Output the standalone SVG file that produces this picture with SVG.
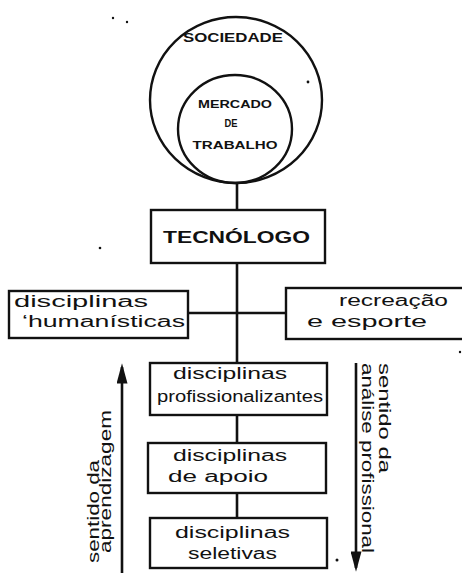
<svg xmlns="http://www.w3.org/2000/svg" width="462" height="573" viewBox="0 0 462 573">
<style>
.shape{fill:none;stroke:#111;stroke-width:2.4}
.link{fill:none;stroke:#111;stroke-width:2.6}
.cap{font-family:"Liberation Sans","DejaVu Sans",sans-serif;font-weight:bold;fill:#111}
.hand{font-family:"Liberation Sans","DejaVu Sans",sans-serif;font-size:16px;fill:#111}
.speck{fill:#111}
</style>
<defs>
<marker id="head" viewBox="0 0 22 12" refX="18" refY="6" markerWidth="22" markerHeight="11" markerUnits="userSpaceOnUse" orient="auto">
<path d="M0,0 L22,6 L0,12 z" fill="#111"/>
</marker>
</defs>
<rect width="462" height="573" fill="#fff"/>

<g id="connectors">
<line class="link" x1="237" y1="183" x2="237" y2="210"/>
<line class="link" x1="237" y1="263" x2="237" y2="363"/>
<line class="link" x1="188" y1="313" x2="286" y2="313"/>
<line class="link" x1="237" y1="415" x2="237" y2="443"/>
<line class="link" x1="237" y1="493" x2="237" y2="518"/>
</g>

<g id="sociedade">
<ellipse class="shape" cx="236" cy="100" rx="86" ry="83"/>
<text class="cap" x="233" y="42" font-size="12.5" text-anchor="middle" textLength="100" lengthAdjust="spacingAndGlyphs">SOCIEDADE</text>
</g>

<g id="mercado">
<ellipse class="shape" cx="235" cy="129" rx="57" ry="54"/>
<text class="cap" x="235" y="108" font-size="10.5" text-anchor="middle" textLength="74" lengthAdjust="spacingAndGlyphs">MERCADO</text>
<text class="cap" x="231" y="127" font-size="10.5" text-anchor="middle" textLength="13" lengthAdjust="spacingAndGlyphs">DE</text>
<text class="cap" x="235" y="149" font-size="10.5" text-anchor="middle" textLength="85" lengthAdjust="spacingAndGlyphs">TRABALHO</text>
</g>

<g id="tecnologo">
<rect class="shape" x="151" y="210" width="174" height="53"/>
<text class="cap" x="163" y="243" font-size="16" textLength="147" lengthAdjust="spacingAndGlyphs">TECNÓLOGO</text>
</g>

<g id="humanisticas">
<rect class="shape" x="9" y="291" width="179" height="47"/>
<text class="hand" x="14" y="307" textLength="134" lengthAdjust="spacingAndGlyphs">disciplinas</text>
<text class="hand" x="22" y="327" textLength="163" lengthAdjust="spacingAndGlyphs">‘humanísticas</text>
</g>

<g id="recreacao">
<rect class="shape" x="286" y="288" width="190" height="51"/>
<text class="hand" x="339" y="306" textLength="109" lengthAdjust="spacingAndGlyphs">recreação</text>
<text class="hand" x="307" y="327" textLength="120" lengthAdjust="spacingAndGlyphs">e esporte</text>
</g>

<g id="profissionalizantes">
<rect class="shape" x="150" y="363" width="177" height="52"/>
<text class="hand" x="173" y="379" textLength="114" lengthAdjust="spacingAndGlyphs">disciplinas</text>
<text class="hand" x="157" y="402" textLength="166" lengthAdjust="spacingAndGlyphs">profissionalizantes</text>
</g>

<g id="apoio">
<rect class="shape" x="148" y="443" width="178" height="50"/>
<text class="hand" x="173" y="461" textLength="114" lengthAdjust="spacingAndGlyphs">disciplinas</text>
<text class="hand" x="168" y="482" textLength="100" lengthAdjust="spacingAndGlyphs">de apoio</text>
</g>

<g id="seletivas">
<rect class="shape" x="150" y="518" width="177" height="50"/>
<text class="hand" x="175" y="538" textLength="115" lengthAdjust="spacingAndGlyphs">disciplinas</text>
<text class="hand" x="188" y="559" textLength="89" lengthAdjust="spacingAndGlyphs">seletivas</text>
</g>

<g id="sentido-aprendizagem">
<line class="link" x1="122" y1="575" x2="122" y2="367" marker-end="url(#head)"/>
<text class="hand" transform="translate(99,563) rotate(-90)" font-size="15" textLength="103" lengthAdjust="spacingAndGlyphs">sentido da</text>
<text class="hand" transform="translate(111,553) rotate(-90)" font-size="15" textLength="143" lengthAdjust="spacingAndGlyphs">aprendizagem</text>
</g>

<g id="sentido-analise">
<line class="link" x1="356" y1="363" x2="356" y2="568" marker-end="url(#head)"/>
<text class="hand" transform="translate(379,363) rotate(90)" font-size="15" textLength="110" lengthAdjust="spacingAndGlyphs">sentido da</text>
<text class="hand" transform="translate(362,363) rotate(90)" font-size="15" textLength="190" lengthAdjust="spacingAndGlyphs">análise profissional</text>
</g>

<g id="specks">
<circle class="speck" cx="113" cy="18" r="1.2"/>
<circle class="speck" cx="127" cy="22" r="1.2"/>
<circle class="speck" cx="308" cy="82" r="1.4"/>
<circle class="speck" cx="100" cy="248" r="1.3"/>
<circle class="speck" cx="460" cy="352" r="1.2"/>
<circle class="speck" cx="337" cy="560" r="1.5"/>
</g>
</svg>
